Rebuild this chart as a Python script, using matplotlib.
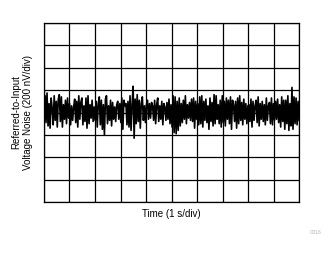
import numpy as np
import matplotlib
matplotlib.use('Agg')
import matplotlib.pyplot as plt

plt.rcParams['font.family'] = ['Liberation Sans', 'DejaVu Sans']

# referred-to-input noise (nV)
noise_nv = [
    60, 150, -90, 175, -120, 80, -140, 130, 40, -110, 150, -70, 100, -130, 120, 160, -80, 140, -130, 70, -60, 110, -100, 130, -50,
    80, -110, 60, -70, 50, 120, -90, 100, -130, 150, -60, 90, 130, -110, 60, -80, 130, -140, 150, -100, 70, -50, 110, -80, 50,
    -70, 100, -130, 80, 140, -110, 110, -150, 70, -200, 120, 150, -100, 60, -70, 110, -120, 90, -60, 50, -80, 70, 100, -60, 80,
    -90, 130, -150, 110, 60, 80, -110, 100, -130, 150, -160, 70, 235, -230, 120, -100, 160, -80, 110, -140, 80, 140, -70, 60, -90,
    70, 110, -60, 80, -50, 90, 60, -70, 110, -100, 70, 130, -80, 60, -60, 100, -110, 80, 50, -70, 90, -60, 120, -100, 70,
    -130, 150, -180, 140, -190, 100, -160, 130, -120, 80, -90, 110, -60, 150, -100, 70, -50, 90, -70, 120, -80, 130, -140, 100, -60,
    80, -110, 140, -100, 150, -130, 100, -70, 120, -90, 60, -150, 130, -80, 90, -120, 160, -100, 150, -60, 70, -100, 110, -130, 150,
    -90, 100, -120, 130, -60, 110, -100, 140, -150, 110, 70, -80, 100, -140, 130, -100, 150, -70, 90, -110, 120, -60, 80, -100, 60,
    70, -80, 120, -130, 100, -70, 60, 110, -90, 140, -120, 80, -60, 100, -80, 70, -110, 130, -70, 60, 90, -100, 130, -110, 80,
    -70, 100, -60, 120, -90, 70, -130, 140, -80, 110, -150, 110, -100, 150, -160, 80, -120, 225, -150, 140, -100, 130, -110, 100, -70,
]
t_span = 10.0        # 10 divisions of 1 s
v_div = 200.0        # nV per division
n_ydiv = 8

t = np.linspace(0, t_span, len(noise_nv))

fig = plt.figure(figsize=(3.28, 2.54), dpi=100)
ax = fig.add_axes([0.134, 0.205, 0.778, 0.704])

ax.plot(t, noise_nv, color='black', lw=1.2)

ax.set_xlim(0, t_span)
ax.set_ylim(-v_div * n_ydiv / 2, v_div * n_ydiv / 2)
ax.set_xticks(np.arange(0, t_span + 1, 1))
ax.set_yticks(np.arange(-v_div * n_ydiv / 2, v_div * n_ydiv / 2 + 1, v_div))
ax.tick_params(length=0, labelbottom=False, labelleft=False)
ax.grid(True, color='black', lw=0.9)
for s in ax.spines.values():
    s.set_color('black')
    s.set_linewidth(0.9)

ax.set_xlabel('Time (1 s/div)', fontsize=7, labelpad=5)
ax.set_ylabel('Referred-to-Input\nVoltage Noise (200 nV/div)', fontsize=7, labelpad=8)

fig.text(0.963, 0.083, 'C016', fontsize=3.5, color='#b0b0b0', ha='center', va='center')

fig.savefig('out.png', dpi=100)
